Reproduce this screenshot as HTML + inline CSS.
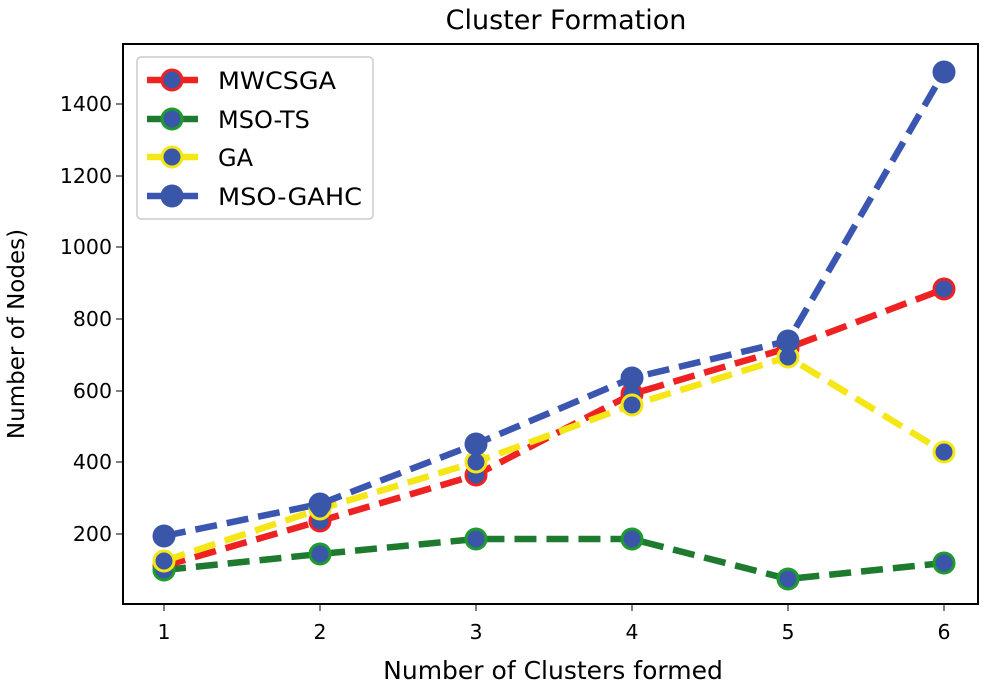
<!DOCTYPE html><html><head><style>body{margin:0;background:#fff}svg text{font-family:"DejaVu Sans","Liberation Sans",sans-serif}</style></head><body>
<svg width="991" height="685" viewBox="0 0 991 685">
<rect width="991" height="685" fill="#fff"/>
<text x="566" y="29" font-size="27" text-anchor="middle">Cluster Formation</text>
<rect x="123" y="44" width="855" height="560" fill="none" stroke="#000" stroke-width="2"/>
<g font-size="20.5" text-anchor="end">
<line x1="116" x2="123" y1="534" y2="534" stroke="#000"/><text x="112" y="541">200</text>
<line x1="116" x2="123" y1="462" y2="462" stroke="#000"/><text x="112" y="469">400</text>
<line x1="116" x2="123" y1="391" y2="391" stroke="#000"/><text x="112" y="398">600</text>
<line x1="116" x2="123" y1="319" y2="319" stroke="#000"/><text x="112" y="326">800</text>
<line x1="116" x2="123" y1="247" y2="247" stroke="#000"/><text x="112" y="254">1000</text>
<line x1="116" x2="123" y1="176" y2="176" stroke="#000"/><text x="112" y="183">1200</text>
<line x1="116" x2="123" y1="104" y2="104" stroke="#000"/><text x="112" y="111">1400</text>
</g>
<g font-size="20.5" text-anchor="middle">
<line x1="164" x2="164" y1="604" y2="611" stroke="#000"/><text x="164" y="639">1</text>
<line x1="320" x2="320" y1="604" y2="611" stroke="#000"/><text x="320" y="639">2</text>
<line x1="476" x2="476" y1="604" y2="611" stroke="#000"/><text x="476" y="639">3</text>
<line x1="632" x2="632" y1="604" y2="611" stroke="#000"/><text x="632" y="639">4</text>
<line x1="788" x2="788" y1="604" y2="611" stroke="#000"/><text x="788" y="639">5</text>
<line x1="944" x2="944" y1="604" y2="611" stroke="#000"/><text x="944" y="639">6</text>
</g>
<text x="553" y="679" font-size="25" text-anchor="middle">Number of Clusters formed</text>
<text transform="translate(24,334) rotate(-90)" font-size="23" text-anchor="middle">Number of Nodes)</text>
<g fill="none" stroke-width="6.5" stroke-dasharray="22,10">
<polyline stroke="#ee2222" points="164,566 320,521 476,475 632,394 788,348 944,289"/>
<polyline stroke="#1e7a2e" points="164,570 320,554 476,539 632,539 788,579 944,563"/>
<polyline stroke="#f5e616" points="164,561 320,509 476,462 632,405 788,357 944,452"/>
<polyline stroke="#3a56b0" points="164,536 320,504 476,444 632,378 788,341 944,72"/>
</g>
<g fill="#3a56a8" stroke-width="3">
<g stroke="#ee2222"><circle cx="164" cy="566" r="10"/><circle cx="320" cy="521" r="10"/><circle cx="476" cy="475" r="10"/><circle cx="632" cy="394" r="10"/><circle cx="788" cy="348" r="10"/><circle cx="944" cy="289" r="10"/></g>
<g stroke="#1e9a2e"><circle cx="164" cy="570" r="10"/><circle cx="320" cy="554" r="10"/><circle cx="476" cy="539" r="10"/><circle cx="632" cy="539" r="10"/><circle cx="788" cy="579" r="10"/><circle cx="944" cy="563" r="10"/></g>
<g stroke="#f5e616"><circle cx="164" cy="561" r="10"/><circle cx="320" cy="509" r="10"/><circle cx="476" cy="462" r="10"/><circle cx="632" cy="405" r="10"/><circle cx="788" cy="357" r="10"/><circle cx="944" cy="452" r="10"/></g>
<g stroke="#3a56a8"><circle cx="164" cy="536" r="10"/><circle cx="320" cy="504" r="10"/><circle cx="476" cy="444" r="10"/><circle cx="632" cy="378" r="10"/><circle cx="788" cy="341" r="10"/><circle cx="944" cy="72" r="10"/></g>
</g>
<rect x="137" y="57" width="236" height="162" rx="4" fill="#fff" fill-opacity="0.85" stroke="#ccc" stroke-width="1.5"/>
<g stroke-width="6.5">
<line x1="147" x2="198" y1="80" y2="80" stroke="#ee2222" stroke-dasharray="22,8"/>
<line x1="147" x2="198" y1="119" y2="119" stroke="#1e7a2e" stroke-dasharray="22,8"/>
<line x1="147" x2="198" y1="157" y2="157" stroke="#f5e616" stroke-dasharray="22,8"/>
<line x1="147" x2="198" y1="196" y2="196" stroke="#3a56b0" stroke-dasharray="22,8"/>
</g>
<g fill="#3a56a8" stroke-width="3">
<circle cx="172" cy="80" r="10" stroke="#ee2222"/>
<circle cx="172" cy="119" r="10" stroke="#1e9a2e"/>
<circle cx="172" cy="157" r="10" stroke="#f5e616"/>
<circle cx="172" cy="196" r="10" stroke="#3a56a8"/>
</g>
<g font-size="24">
<text x="218" y="89" textLength="118" lengthAdjust="spacingAndGlyphs">MWCSGA</text>
<text x="218" y="128">MSO-TS</text>
<text x="218" y="166">GA</text>
<text x="218" y="205" textLength="144" lengthAdjust="spacingAndGlyphs">MSO-GAHC</text>
</g>
</svg></body></html>
